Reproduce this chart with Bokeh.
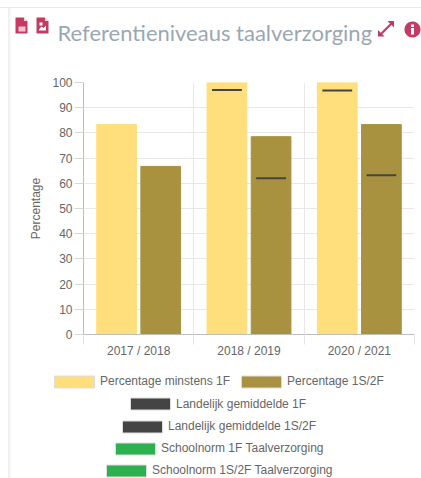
import numpy as np
from bokeh.core.properties import value
from bokeh.embed import file_html
from bokeh.layouts import column
from bokeh.resources import INLINE
from bokeh.plotting import figure
from bokeh.models import Range1d, FixedTicker, LinearAxis, Legend, LegendItem, Grid

years = ["2017 / 2018", "2018 / 2019", "2020 / 2021"]
pct_1f = [83.3, 100, 100]
pct_1s2f = [66.7, 78.5, 83.3]
land_1f = [np.nan, 97, 96.8]
land_1s2f = [np.nan, 62, 63.2]
y_ticks = list(range(0, 101, 10))
title = "Referentieniveaus taalverzorging"

C1F, C2F, DARK, GREEN = "#FFDF7C", "#A8923F", "#444444", "#2DB14F"
TXT = "#666666"
ICON = "#C43A63"
W, H, HEAD, FOOT = 421, 478, 74, 113
F_L, F_T, F_R, F_B = 83, 82, 414, 334   # frame edges in page pixels


def blank(height):
    f = figure(width=W, height=height, output_backend="svg", toolbar_location=None,
               x_range=Range1d(0, W), y_range=Range1d(height, 0),
               x_axis_type=None, y_axis_type=None, min_border=0,
               min_border_left=0, min_border_right=0, min_border_top=0, min_border_bottom=0,
               border_fill_alpha=0, background_fill_alpha=0, frame_align=False)
    f.outline_line_color = None
    return f


# ---------- header ----------
h = blank(HEAD)
h.text(x=[57], y=[32], text=[title], text_font=value("Lato"), text_font_size="22px",
       text_color="#9BA7B3", text_baseline="middle")


def poly(xs, ys, color=ICON):
    h.patch(list(xs), list(ys), fill_color=color, line_color=None)


def page_icon(x0, y0):
    poly([x0, x0 + 8, x0 + 12, x0 + 12, x0], [y0, y0, y0 + 4, y0 + 16, y0 + 16])
    poly([x0 + 8.5, x0 + 12, x0 + 8.5], [y0, y0 + 3.5, y0 + 3.5], "#f3d5de")


page_icon(15, 17)
poly([18, 25, 25, 18], [26, 26, 31, 31], "#f0c3d0")
page_icon(36, 17)
poly([38.5, 41, 43, 45.5, 45.5, 38.5], [29, 26, 27.5, 25, 30, 30], "#ffffff")
poly([39, 42, 42, 39], [22, 22, 25, 25], "#ffffff")
poly([377.5, 384, 377.5], [36, 36, 29.5])
poly([393.5, 387, 393.5], [20.5, 20.5, 27])
poly([380, 381.5, 392, 390.5], [32.5, 34, 23.5, 22])
t = np.linspace(0, 2 * np.pi, 40)
poly(412 + 8 * np.cos(t), 29 + 8 * np.sin(t))
poly([410.5, 413.5, 413.5, 410.5], [27.5, 27.5, 34, 34], "#ffffff")
poly([410.5, 413.5, 413.5, 410.5], [24, 24, 26.5, 26.5], "#ffffff")

# ---------- chart ----------
p = figure(width=W, height=H - HEAD - FOOT, output_backend="svg", toolbar_location=None,
           x_range=Range1d(0, 3), y_range=Range1d(0, 100),
           x_axis_type=None, y_axis_type=None,
           min_border_left=F_L, min_border_right=W - F_R,
           min_border_top=F_T - HEAD, min_border_bottom=H - FOOT - F_B,
           border_fill_alpha=0, background_fill_alpha=0, frame_align=False)
p.outline_line_color = None

xa = LinearAxis(ticker=FixedTicker(ticks=[0.5, 1.5, 2.5], minor_ticks=[0, 1, 2, 3]),
                major_label_overrides={0.5: years[0], 1.5: years[1], 2.5: years[2]})
xa.major_tick_line_color = None
xa.major_tick_out = 0
xa.major_tick_in = 0
xa.minor_tick_out = 10
xa.minor_tick_in = 0
xa.minor_tick_line_color = "#e4e4e4"
xa.axis_line_color = "#bdbdbd"
xa.major_label_text_font = "Liberation Sans"
xa.major_label_text_font_size = "12px"
xa.major_label_text_color = TXT
xa.major_label_standoff = -1
p.add_layout(xa, "below")

ya = LinearAxis(ticker=FixedTicker(ticks=y_ticks), axis_label="Percentage")
ya.major_tick_out = 9
ya.major_tick_in = 0
ya.minor_tick_line_color = None
ya.major_tick_line_color = "#d8d8d8"
ya.axis_line_color = "#bdbdbd"
ya.major_label_text_font = "Liberation Sans"
ya.major_label_text_font_size = "12px"
ya.major_label_text_color = TXT
ya.major_label_standoff = 2
ya.axis_label_text_font = "Liberation Sans"
ya.axis_label_text_font_style = "normal"
ya.axis_label_text_font_size = "12px"
ya.axis_label_text_color = TXT
ya.axis_label_standoff = 6
p.add_layout(ya, "left")

p.add_layout(Grid(dimension=0, ticker=FixedTicker(ticks=[0, 1, 2, 3]), grid_line_color="#e8e8e8"))
p.add_layout(Grid(dimension=1, ticker=FixedTicker(ticks=y_ticks), grid_line_color="#e8e8e8"))

idx = np.arange(len(years)) + 0.5
BW, MW, MH = 0.36, 0.27, 0.8
p.vbar(x=idx - 0.2, top=pct_1f, width=BW, fill_color=C1F, line_color=C1F)
p.vbar(x=idx + 0.2, top=pct_1s2f, width=BW, fill_color=C2F, line_color=C2F)
p.hbar(y=land_1f, left=idx - 0.2 - MW / 2, right=idx - 0.2 + MW / 2, height=MH,
       fill_color=DARK, line_color=None)
p.hbar(y=land_1s2f, left=idx + 0.2 - MW / 2, right=idx + 0.2 + MW / 2, height=MH,
       fill_color=DARK, line_color=None)

# ---------- legend ----------
f = blank(FOOT)


def key(color):
    return f.vbar(x=[np.nan], top=[np.nan], width=1, fill_color=color, line_color="#dddddd")


def add_legend(items, left, center_y, spacing=0):
    leg = Legend(items=[LegendItem(label=t, renderers=[r]) for t, r in items],
                 orientation="horizontal", location=(left, H - center_y - 7.5),
                 padding=0, margin=0, spacing=spacing, border_line_color=None,
                 background_fill_alpha=0, glyph_width=50, glyph_height=15,
                 label_height=15, label_standoff=1, label_text_font="Liberation Sans",
                 label_text_font_size="12px", label_text_color=TXT)
    f.add_layout(leg, "center")


add_legend([("Percentage minstens 1F", key(C1F)), ("Percentage 1S/2F", key(C2F))], 49, 381, 6)
add_legend([("Landelijk gemiddelde 1F", key(DARK))], 125, 403.5)
add_legend([("Landelijk gemiddelde 1S/2F", key(DARK))], 117, 426)
add_legend([("Schoolnorm 1F Taalverzorging", key(GREEN))], 110, 448)
add_legend([("Schoolnorm 1S/2F Taalverzorging", key(GREEN))], 101, 470)

bg = ("linear-gradient(#fff 7px, #e8e8e8 7px, #e8e8e8 8px, transparent 8px), "
      "linear-gradient(90deg, #fff 8px, #eee 8px, #f6f6f6 10px, #fff 12px)")
layout = column(h, p, f, spacing=0, width=W, height=H, styles={"background": bg})
open("out.html", "w").write(file_html(layout, INLINE))
